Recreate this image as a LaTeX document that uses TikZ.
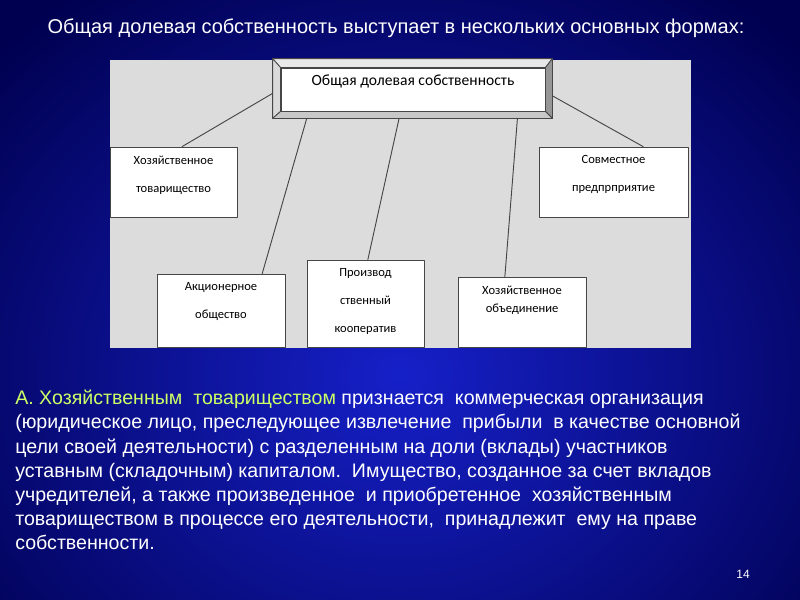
\documentclass[tikz,border=0pt]{standalone}
\usepackage{fontspec}
\setmainfont{Liberation Sans}
\newfontfamily\boxfont{Carlito}
\usetikzlibrary{calc}
\usetikzlibrary{positioning}

\definecolor{slidedark}{RGB}{0,0,80}
\definecolor{slidelight}{RGB}{22,32,200}
\definecolor{panelgray}{RGB}{220,220,220}
\definecolor{boxline}{RGB}{70,70,70}
\definecolor{leadyellow}{RGB}{204,255,102}
\definecolor{bevtop}{RGB}{232,232,232}
\definecolor{bevleft}{RGB}{218,218,218}
\definecolor{bevright}{RGB}{150,150,150}
\definecolor{bevbottom}{RGB}{200,200,200}

\tikzset{
  formbox/.style={draw=boxline,fill=white,line width=0.6pt,inner sep=0pt},
  formtext/.style={font=\boxfont\fontsize{9.4}{21}\selectfont,align=center,anchor=north,inner sep=0pt,yshift=-6.6pt},
  bevel/.style={draw=boxline,line width=0.6pt},
  link/.style={draw=boxline,line width=0.7pt},
}

\begin{document}
\begin{tikzpicture}[line cap=round,line join=round,x=0.75pt,y=-0.75pt]
\useasboundingbox (0,0) rectangle (800,600);
\clip (0,0) rectangle (800,600);
\shade[inner color=slidelight,outer color=slidedark] (-150,-100) rectangle (950,850);
\fill[panelgray] (110,60) rectangle (691,348);

\node[text=white,font=\fontsize{15}{17}\selectfont] (title) at (396,28) {Общая долевая собственность выступает в нескольких основных формах:};

\node[draw=boxline,fill=bevbottom,line width=0.6pt,inner sep=0pt,minimum width=209.25pt,minimum height=44.25pt] (root) at (412.5,88.5) {};
\node[formbox,minimum width=198pt,minimum height=32.25pt,
  label={[font=\boxfont\fontsize{11.7}{13}\selectfont,anchor=north,inner sep=0pt,yshift=-5.5pt]north:Общая долевая собственность}] (rootin) at (413,89.5) {};
\filldraw[bevel,fill=bevtop] (root.north west) -- (root.north east) -- (rootin.north east) -- (rootin.north west) -- cycle;
\filldraw[bevel,fill=bevleft] (root.north west) -- (rootin.north west) -- (rootin.south west) -- (root.south west) -- cycle;
\filldraw[bevel,fill=bevright] (root.north east) -- (root.south east) -- (rootin.south east) -- (rootin.north east) -- cycle;
\filldraw[bevel,fill=bevbottom] (root.south west) -- (rootin.south west) -- (rootin.south east) -- (root.south east) -- cycle;

\node[formbox,minimum width=95.25pt,minimum height=52.5pt,
  label={[formtext]north:Хозяйственное\\товарищество}] (partner) at (173.5,182) {};
\node[formbox,minimum width=111.75pt,minimum height=52.5pt,
  label={[formtext]north:Совместное\\предпрприятие}] (joint) at (613.5,182) {};
\node[formbox,minimum width=96pt,minimum height=54.75pt,
  label={[formtext]north:Акционерное\\общество}] (stock) at (221,310.5) {};
\node[formbox,minimum width=87.75pt,minimum height=65.25pt,
  label={[formtext]north:Производ\\ственный\\кооператив}] (coop) at (365.5,303.5) {};
\node[formbox,minimum width=96pt,minimum height=52.5pt,
  label={[formtext,font=\boxfont\fontsize{9.4}{13.5}\selectfont]north:Хозяйственное\\объединение}] (union) at (522,312) {};

\draw[link] (root.182) -- ($(partner.north west)!0.567!(partner.north east)$);
\draw[link] ($(root.south west)!0.122!(root.south east)$) -- ($(stock.north west)!0.82!(stock.north east)$);
\draw[link] ($(root.south west)!0.452!(root.south east)$) -- ($(coop.north west)!0.52!(coop.north east)$);
\draw[link] ($(root.south west)!0.875!(root.south east)$) -- ($(union.north west)!0.367!(union.north east)$);
\draw[link] (root.-3) -- ($(joint.north west)!0.698!(joint.north east)$);

\node[anchor=north west,align=left,inner sep=0pt,text=white,font=\fontsize{14.7}{18.1}\selectfont] (para) at (15,390) {%
{\color{leadyellow}А. Хозяйственным\ \ товариществом} признается\ \ коммерческая организация\\
(юридическое лицо, преследующее извлечение\ \ прибыли\ \ в качестве основной\\
цели своей деятельности) с разделенным на доли (вклады) участников\\
уставным (складочным) капиталом.\ \ Имущество, созданное за счет вкладов\\
учредителей, а также произведенное\ \ и приобретенное\ \ хозяйственным\\
товариществом в процессе его деятельности,\ \ принадлежит\ \ ему на праве\\
собственности.};

\node[text=white,font=\fontsize{9}{10}\selectfont] (pagenum) at (743,574) {14};
\end{tikzpicture}
\end{document}
